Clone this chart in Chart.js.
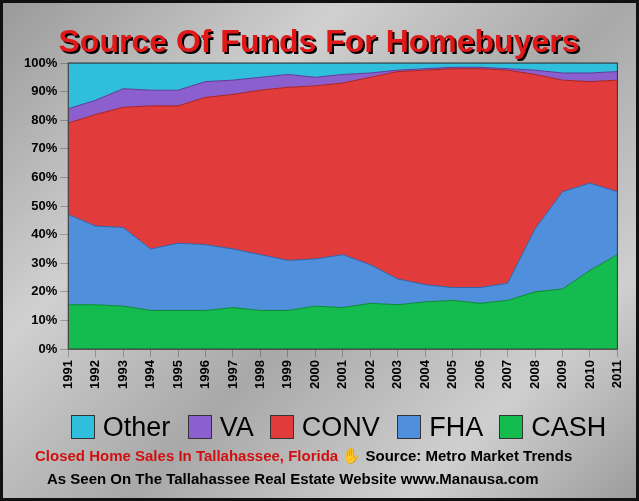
<!DOCTYPE html>
<html><head><meta charset="utf-8">
<script src="https://cdn.jsdelivr.net/npm/chart.js@4"></script>
<style>
html,body{margin:0;padding:0;}
#wrap{position:relative;width:639px;height:501px;background:linear-gradient(135deg,#9a9a9a,#d0d0d0 30%,#a8a8a8 55%,#cfcfcf 80%,#9c9c9c);box-sizing:border-box;border:3px solid #111;overflow:hidden;}
canvas{position:absolute;left:0;top:0;}
.ft{position:absolute;font-family:Arial,"Liberation Sans",sans-serif;font-weight:bold;font-size:15px;white-space:nowrap;}
#lg{position:absolute;left:14px;width:633px;top:409px;text-align:center;font-family:Arial,"Liberation Sans",sans-serif;font-size:27px;color:#000;white-space:nowrap;}
#lg span.b{display:inline-block;width:22px;height:22px;border:1px solid #333;vertical-align:-3px;margin:0 8px 0 10px;}
</style></head><body>
<div id="wrap"><canvas id="c" width="633" height="495"></canvas>
<div id="lg"></div>
<div class="ft" style="left:32px;top:444px;"><span style="color:#d01010">Closed Home Sales In Tallahassee, Florida</span> <span style="color:#000">&#9995; Source: Metro Market Trends</span></div>
<div class="ft" style="left:44px;top:467px;color:#000;">As Seen On The Tallahassee Real Estate Website www.Manausa.com</div>
</div>
<script>
const years=["1991","1992","1993","1994","1995","1996","1997","1998","1999","2000","2001","2002","2003","2004","2005","2006","2007","2008","2009","2010","2011"];
const cash=[15.5,15.5,15,13.5,13.5,13.5,14.5,13.5,13.5,15,14.5,16,15.5,16.5,17,16,17,20,21,27.5,33];
const fha=[31.5,27.5,27.5,21.5,23.5,23,20.5,19.5,17.5,16.5,18.5,13.5,9,6,4.5,5.5,6,22,34,30.5,22];
const conv=[32,39,42,50,48,51.5,54,57.5,60.5,60.5,60,65.5,72.5,75,76.5,76.5,74.5,54,39,35.5,39];
const va=[5,5,6.5,5.5,5.5,5.5,5,4.5,4.5,3,3,1.5,0.5,0.5,0.5,0.5,0.5,1.5,2.5,3,3];
const other=[16,13,9,9.5,9.5,6.5,6,5,4,5,4,3.5,2.5,2,1.5,1.5,2,2.5,3.5,3.5,3];
function ds(label,data,color,border,fill){return {label,data,backgroundColor:color,borderColor:border,borderWidth:1,fill,pointRadius:0,tension:0};}
const bgPlugin={id:'bg',beforeDraw(c){const a=c.chartArea,x=c.ctx;x.save();x.fillStyle='rgba(230,230,230,0.8)';x.fillRect(a.left,a.top,a.right-a.left,a.bottom-a.top);x.restore();},
afterDraw(c){const a=c.chartArea,x=c.ctx;x.save();x.strokeStyle='#333';x.lineWidth=1;x.strokeRect(a.left,a.top,a.right-a.left,a.bottom-a.top);
x.font='bold 32px Arial, "Liberation Sans"';x.textAlign='center';x.fillStyle='#000';x.fillText('Source Of Funds For Homebuyers',318,51);x.fillStyle='#e01818';x.fillText('Source Of Funds For Homebuyers',316,49);x.restore();}};
const chart=new Chart(document.getElementById('c'),{type:'line',
data:{labels:years,datasets:[
ds('CASH',cash,'#14bb4e','#0a8a35','origin'),
ds('FHA',fha,'#4f8fdc','#2e64a8','-1'),
ds('CONV',conv,'#e23b3b','#a82222','-1'),
ds('VA',va,'#8c5fcf','#5d3b96','-1'),
ds('Other',other,'#2fbfdc','#1a8aa3','-1')]},
options:{responsive:false,animation:false,
layout:{padding:{top:60,right:9,left:18,bottom:106}},
plugins:{legend:{display:false},tooltip:{enabled:false}},
scales:{x:{offset:false,grid:{color:'rgba(0,0,0,0.25)'},ticks:{color:'#000',font:{weight:'bold',size:13},maxRotation:90,minRotation:90}},
y:{stacked:true,min:0,max:100,grid:{color:'rgba(0,0,0,0.25)'},ticks:{stepSize:10,color:'#000',font:{weight:'bold',size:13},callback:v=>v+'%'}}}},
plugins:[bgPlugin]});
document.getElementById('lg').innerHTML=chart.data.datasets.slice().reverse().map(d=>'<span class="b" style="background:'+d.backgroundColor+'"></span>'+d.label).join(' ');
</script></body></html>
